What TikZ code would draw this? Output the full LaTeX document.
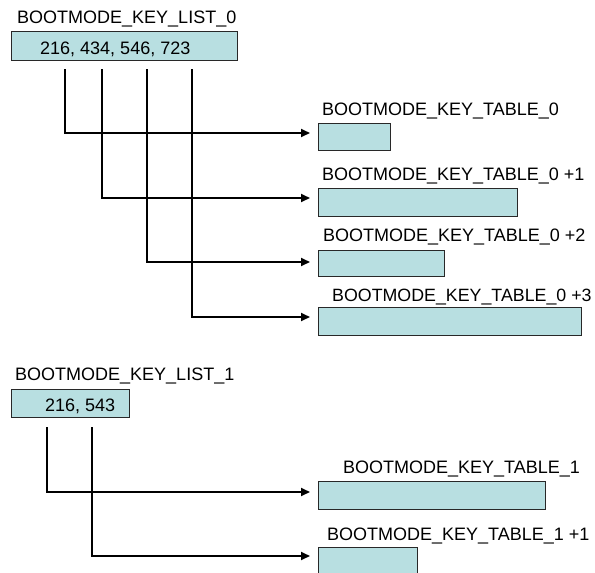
\documentclass[tikz,border=0pt]{standalone}
\usepackage{fontspec}
\setmainfont{Liberation Sans}
\usetikzlibrary{arrows.meta}
\definecolor{boxfill}{RGB}{184,223,225}
\definecolor{boxline}{RGB}{40,40,40}
\tikzset{
  membox/.style={draw=boxline, line width=1.1pt, fill=boxfill, rectangle, inner sep=0pt, anchor=north west},
  lbl/.style={anchor=base west, inner sep=0pt, font=\fontsize{18}{21}\selectfont},
  tlbl/.style={anchor=base west, inner sep=0pt, font=\fontsize{18}{21}\selectfont},
  conn/.style={draw=black, line width=1.8pt, -{Triangle[length=9pt,width=8pt]}}
}
\begin{document}
\begin{tikzpicture}[x=1pt,y=-1pt]
\clip (0,0) rectangle (595,573);
\fill[white] (0,0) rectangle (595,573);
% group 0
\node[lbl] (l0lab) at (17,23) {BOOTMODE\_KEY\_LIST\_0};
\node[membox, minimum width=226pt, minimum height=29pt] (list0) at (11,31) {};
\node[lbl] (list0txt) at (40,54) {216, 434, 546, 723};

\node[tlbl] (t0lab) at (322,115) {BOOTMODE\_KEY\_TABLE\_0};
\node[membox, minimum width=72pt, minimum height=27pt] (t0) at (318,123) {};
\node[tlbl] (t1lab) at (322,180) {BOOTMODE\_KEY\_TABLE\_0 +1};
\node[membox, minimum width=199pt, minimum height=28pt] (t1) at (318,188) {};
\node[tlbl] (t2lab) at (323,241.5) {BOOTMODE\_KEY\_TABLE\_0 +2};
\node[membox, minimum width=126pt, minimum height=26pt] (t2) at (318,250) {};
\node[tlbl, font=\fontsize{17.8}{21}\selectfont] (t3lab) at (332,301.5) {BOOTMODE\_KEY\_TABLE\_0 +3};
\node[membox, minimum width=263pt, minimum height=28pt] (t3) at (318,307) {};

\coordinate (s0) at (65,69);
\coordinate (s1) at (102,69);
\coordinate (s2) at (147,69);
\coordinate (s3) at (192,69);
\coordinate (e0) at (310,133);
\coordinate (e1) at (310,198);
\coordinate (e2) at (310,262);
\coordinate (e3) at (310,317);
\draw[conn] (s0) |- (e0);
\draw[conn] (s1) |- (e1);
\draw[conn] (s2) |- (e2);
\draw[conn] (s3) |- (e3);

% group 1
\node[lbl] (l1lab) at (15,380) {BOOTMODE\_KEY\_LIST\_1};
\node[membox, minimum width=118pt, minimum height=28pt] (list1) at (11,389) {};
\node[lbl] (list1txt) at (45,411.5) {216, 543};

\node[tlbl] (u0lab) at (343,473) {BOOTMODE\_KEY\_TABLE\_1};
\node[membox, minimum width=227pt, minimum height=28pt] (u0) at (318,481) {};
\node[tlbl] (u1lab) at (327,540) {BOOTMODE\_KEY\_TABLE\_1 +1};
\node[membox, minimum width=99pt, minimum height=40pt] (u1) at (318,547) {};

\coordinate (r0) at (47,427);
\coordinate (r1) at (92,427);
\coordinate (f0) at (310,492);
\coordinate (f1) at (310,556);
\draw[conn] (r0) |- (f0);
\draw[conn] (r1) |- (f1);
\end{tikzpicture}
\end{document}
